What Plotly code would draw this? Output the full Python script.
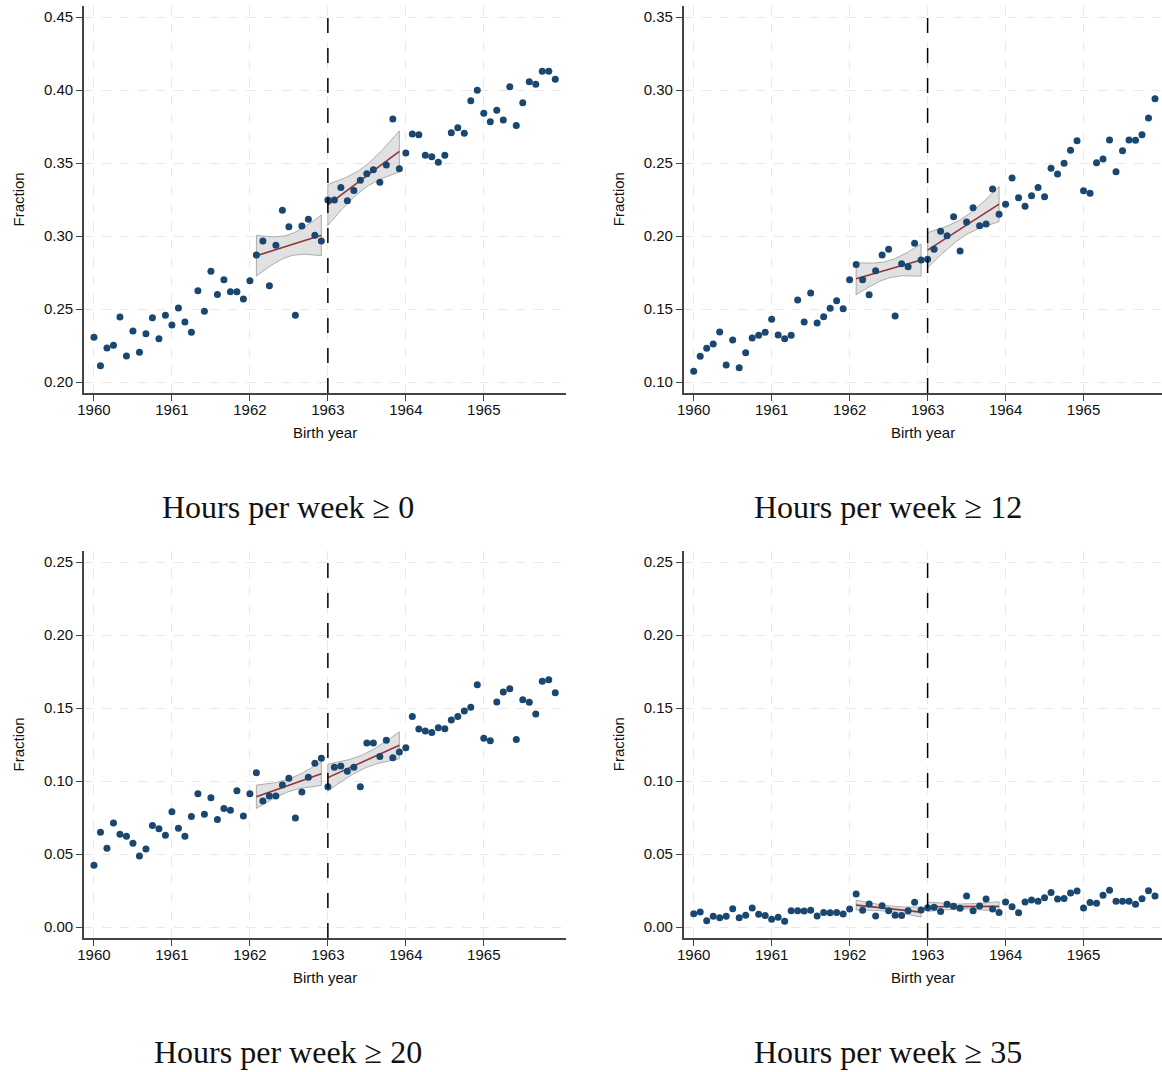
import numpy as np
import plotly.graph_objects as go

# ---------------- data (monthly cohorts, 1960m1 .. 1965m12) ----------------
months = list(range(72))
birth_year = [1960 + m / 12 for m in months]

frac_h0 = [0.2306, 0.2112, 0.2233, 0.2251, 0.2445, 0.2178, 0.2349, 0.2203, 0.2331, 0.2440, 0.2297, 0.2457,
           0.2390, 0.2507, 0.2411, 0.2340, 0.2625, 0.2484, 0.2758, 0.2600, 0.2701, 0.2619, 0.2619, 0.2568,
           0.2694, 0.2870, 0.2966, 0.2660, 0.2936, 0.3176, 0.3064, 0.2457, 0.3068, 0.3114, 0.3005, 0.2966,
           0.3247, 0.3247, 0.3333, 0.3242, 0.3311, 0.3381, 0.3427, 0.3454, 0.3368, 0.3486, 0.3801, 0.3461,
           0.3568, 0.3699, 0.3694, 0.3553, 0.3543, 0.3505, 0.3553, 0.3708, 0.3742, 0.3703, 0.3927, 0.3998,
           0.3840, 0.3783, 0.3861, 0.3795, 0.4023, 0.3756, 0.3913, 0.4057, 0.4039, 0.4128, 0.4128, 0.4073]

frac_h12 = [0.1073, 0.1176, 0.1231, 0.1260, 0.1342, 0.1116, 0.1288, 0.1098, 0.1201, 0.1301, 0.1320, 0.1340,
            0.1429, 0.1322, 0.1297, 0.1320, 0.1562, 0.1411, 0.1610, 0.1404, 0.1447, 0.1505, 0.1557, 0.1502,
            0.1701, 0.1804, 0.1701, 0.1598, 0.1762, 0.1870, 0.1909, 0.1452, 0.1810, 0.1790, 0.1950, 0.1836,
            0.1840, 0.1909, 0.2032, 0.2002, 0.2132, 0.1897, 0.2096, 0.2194, 0.2071, 0.2082, 0.2322, 0.2149,
            0.2217, 0.2397, 0.2262, 0.2203, 0.2276, 0.2333, 0.2269, 0.2464, 0.2425, 0.2498, 0.2587, 0.2653,
            0.2310, 0.2292, 0.2502, 0.2527, 0.2658, 0.2440, 0.2584, 0.2658, 0.2655, 0.2694, 0.2808, 0.2940]

frac_h20 = [0.0423, 0.0649, 0.0539, 0.0712, 0.0635, 0.0621, 0.0573, 0.0486, 0.0534, 0.0696, 0.0673, 0.0628,
            0.0790, 0.0676, 0.0621, 0.0756, 0.0913, 0.0772, 0.0886, 0.0737, 0.0811, 0.0799, 0.0934, 0.0760,
            0.0913, 0.1057, 0.0863, 0.0897, 0.0897, 0.0973, 0.1018, 0.0747, 0.0925, 0.1025, 0.1121, 0.1155,
            0.0961, 0.1094, 0.1103, 0.1066, 0.1094, 0.0961, 0.1260, 0.1260, 0.1167, 0.1279, 0.1160, 0.1199,
            0.1228, 0.1441, 0.1356, 0.1342, 0.1333, 0.1365, 0.1358, 0.1418, 0.1441, 0.1479, 0.1505, 0.1660,
            0.1292, 0.1276, 0.1541, 0.1610, 0.1632, 0.1285, 0.1557, 0.1539, 0.1459, 0.1683, 0.1694, 0.1605]

frac_h35 = [0.0091, 0.0103, 0.0043, 0.0073, 0.0064, 0.0073, 0.0125, 0.0064, 0.0080, 0.0130, 0.0087, 0.0078,
            0.0053, 0.0066, 0.0039, 0.0112, 0.0112, 0.0110, 0.0114, 0.0075, 0.0100, 0.0098, 0.0100, 0.0089,
            0.0123, 0.0226, 0.0114, 0.0158, 0.0075, 0.0146, 0.0112, 0.0080, 0.0078, 0.0112, 0.0169, 0.0116,
            0.0132, 0.0135, 0.0107, 0.0155, 0.0142, 0.0128, 0.0212, 0.0112, 0.0144, 0.0192, 0.0123, 0.0100,
            0.0171, 0.0139, 0.0098, 0.0171, 0.0185, 0.0176, 0.0201, 0.0237, 0.0192, 0.0196, 0.0233, 0.0247,
            0.0130, 0.0167, 0.0162, 0.0217, 0.0251, 0.0176, 0.0176, 0.0176, 0.0155, 0.0194, 0.0249, 0.0212]

# 95% CI half-widths at the ends of each fit window (before, after cutoff)
ci_end_h0 = [0.0139, 0.0140]
ci_end_h12 = [0.0110, 0.0120]
ci_end_h20 = [0.0080, 0.0092]
ci_end_h35 = [0.0034, 0.0032]

panel_titles = ["Hours per week \u2265 0", "Hours per week \u2265 12",
                "Hours per week \u2265 20", "Hours per week \u2265 35"]
panel_series = [frac_h0, frac_h12, frac_h20, frac_h35]
panel_ci = [ci_end_h0, ci_end_h12, ci_end_h20, ci_end_h35]

x_ticks = [1960, 1961, 1962, 1963, 1964, 1965]
y_ticks_top_left = [0.20, 0.25, 0.30, 0.35, 0.40, 0.45]
y_ticks_top_right = [0.10, 0.15, 0.20, 0.25, 0.30, 0.35]
y_ticks_bottom = [0.00, 0.05, 0.10, 0.15, 0.20, 0.25]
panel_yticks = [y_ticks_top_left, y_ticks_top_right, y_ticks_bottom, y_ticks_bottom]

cutoff = 1963
fit_windows = [(25, 36), (36, 48)]  # month index ranges used for local linear fits

# ---------------- layout geometry ----------------
W, H = 1162, 1072
px_per_unit = 1460  # pixels per 1.0 of fraction


def hx(p):
    """horizontal pixel -> paper fraction (with small render offset compensation)"""
    return (p - 6.0) / 0.9944 / W


panels_px = [  # left, right, top, bottom (pixels), y value at 'base_px'
    dict(l=83, r=565, t=6, b=393, base=0.20, base_px=382),
    dict(l=683, r=1162, t=6, b=393, base=0.10, base_px=382),
    dict(l=83, r=565, t=551, b=938, base=0.00, base_px=927),
    dict(l=683, r=1162, t=551, b=938, base=0.00, base_px=927),
]
title_pos = [(287, 507), (887, 507), (287, 1052), (887, 1052)]

NAVY = "#1a476f"
RED = "#90353b"
GRID = "#e8e8e8"
AXIS = "#444444"
sans = "Liberation Sans, Arial, sans-serif"
tick_font = dict(family=sans, size=15, color="#111111")

fig = go.Figure()
annotations = []
shapes = []

for i, (series, pp) in enumerate(zip(panel_series, panels_px)):
    ax = "" if i == 0 else str(i + 1)
    xref, yref = "x" + ax, "y" + ax
    x0 = 1960 - 10 / 78.0
    x1 = 1960 + (pp["r"] - (pp["l"] + 10)) / 78.0
    y0 = pp["base"] - (pp["b"] - pp["base_px"]) / px_per_unit
    y1 = pp["base"] + (pp["base_px"] - pp["t"]) / px_per_unit

    for k, (a, b) in enumerate(fit_windows):
        xs = np.array(months[a:b], dtype=float)
        ys = np.array(series[a:b])
        n = len(xs)
        xm = xs.mean()
        sxx = ((xs - xm) ** 2).sum()
        slope = ((xs - xm) * (ys - ys.mean())).sum() / sxx
        icpt = ys.mean() - slope * xm
        xg = np.linspace(xs.min(), xs.max(), 40)
        yhat = icpt + slope * xg
        lev = np.sqrt(1.0 / n + (xg - xm) ** 2 / sxx)
        lev_end = np.sqrt(1.0 / n + (xs.max() - xm) ** 2 / sxx)
        hw = panel_ci[i][k] * lev / lev_end
        lo, hi = yhat - hw, yhat + hw
        xgy = 1960 + xg / 12
        fig.add_trace(go.Scatter(
            x=np.concatenate([xgy, xgy[::-1], xgy[:1]]),
            y=np.concatenate([hi, lo[::-1], hi[:1]]),
            fill="toself", fillcolor="rgba(200,200,200,0.55)",
            line=dict(color="rgba(165,165,165,0.9)", width=1),
            mode="lines", hoverinfo="skip", showlegend=False, xaxis=xref, yaxis=yref))
        fig.add_trace(go.Scatter(
            x=xgy, y=yhat, mode="lines", line=dict(color=RED, width=1.6),
            showlegend=False, xaxis=xref, yaxis=yref))

    fig.add_trace(go.Scatter(
        x=birth_year, y=series, mode="markers",
        marker=dict(color=NAVY, size=7, line=dict(width=0)),
        showlegend=False, xaxis=xref, yaxis=yref))

    shapes.append(dict(type="line", xref=xref, yref=yref, x0=cutoff, x1=cutoff, y0=y0, y1=y1,
                       line=dict(color="black", width=1.5, dash="longdash"), layer="above"))

    dom_x = [hx(pp["l"]), min(hx(pp["r"]), 1.0)]
    if i % 2 == 1:
        x1 = x0 + (x1 - x0) * (dom_x[1] - dom_x[0]) / (hx(pp["r"]) - dom_x[0])
    dom_y = [1 - pp["b"] / H, 1 - pp["t"] / H]
    fig.layout["xaxis" + ax] = dict(
        domain=dom_x, range=[x0, x1], anchor=yref, tickvals=x_ticks,
        ticktext=[str(v) for v in x_ticks], ticks="outside", ticklen=6, tickcolor=AXIS,
        showline=True, linecolor=AXIS, linewidth=1.5, showgrid=True, gridcolor=GRID,
        griddash="dash", gridwidth=1.2, zeroline=False, tickfont=tick_font,
        ticklabelstandoff=-4)
    fig.layout["yaxis" + ax] = dict(
        domain=dom_y, range=[y0, y1], anchor=xref, tickvals=panel_yticks[i],
        ticktext=["%.2f" % v for v in panel_yticks[i]], ticks="outside", ticklen=6, tickcolor=AXIS,
        showline=True, linecolor=AXIS, linewidth=1.5, showgrid=True, gridcolor=GRID,
        griddash="dash", gridwidth=1.2, zeroline=False, tickfont=tick_font)

    annotations.append(dict(text="Birth year", xref="paper", yref="paper",
                            x=hx((pp["l"] + min(pp["r"], pp["l"] + 484)) / 2), y=1 - (pp["b"] + 39) / H,
                            xanchor="center", yanchor="middle", showarrow=False,
                            font=dict(family=sans, size=15, color="#111111")))
    annotations.append(dict(text="Fraction", xref="paper", yref="paper",
                            x=hx(pp["l"] - 65), y=1 - (pp["t"] + pp["b"]) / 2 / H, textangle=-90,
                            xanchor="center", yanchor="middle", showarrow=False,
                            font=dict(family=sans, size=15, color="#111111")))
    tx, ty = title_pos[i]
    annotations.append(dict(text=panel_titles[i], xref="paper", yref="paper", x=hx(tx), y=1 - ty / H,
                            xanchor="center", yanchor="middle", showarrow=False,
                            font=dict(family="Liberation Serif, Times New Roman, serif", size=32,
                                      color="#111111")))

fig.update_layout(width=W, height=H, margin=dict(l=0, r=0, t=0, b=0),
                  paper_bgcolor="white", plot_bgcolor="white",
                  annotations=annotations, shapes=shapes, showlegend=False)

fig.write_html("out.html", config={"displayModeBar": False},
               post_script="document.body.style.margin='0px';")
